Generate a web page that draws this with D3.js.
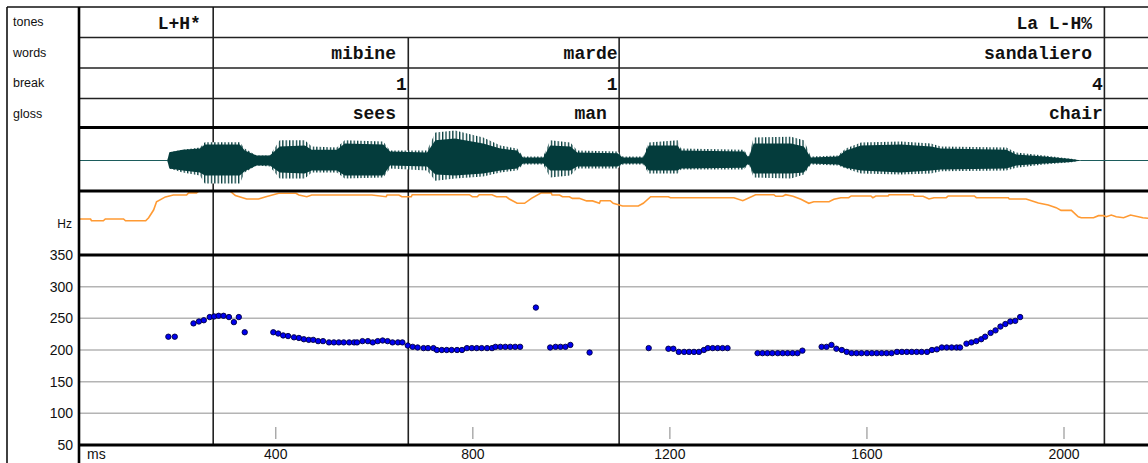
<!DOCTYPE html>
<html><head><meta charset="utf-8">
<script src="https://cdn.jsdelivr.net/npm/d3@7/dist/d3.min.js"></script>
<style>html,body{margin:0;padding:0;background:#fff;} svg{display:block;}</style>
</head><body><svg id="c" width="1148" height="463"></svg>
<script>
// ---------- data ----------
const tierNames = ["tones", "words", "break", "gloss"];
const toneTimes = [273, 2082];
const toneLabels = ["L+H* ", "La L-H% "];
const wordTimes = [273, 669, 1097, 2082];
const wordLabels = ["", "mibine ", "marde", "sandaliero "];
const breakTimes = [273, 669, 1097, 2082];
const breakLabels = ["", "1", "1", "4"];
const glossTimes = [273, 669, 1097, 2082];
const glossLabels = ["", "sees ", "man ", "chair"];
const paneBoundaries = [273, 669, 1097, 2082];

const xTicks = [400, 800, 1200, 1600, 2000];
const yTicks = [350, 300, 250, 200, 150, 100, 50];
const yGrid = [300, 250, 200, 150, 100];

// waveform envelope (ms, peak top, core top, core bottom, peak bottom), normalized amplitude
const waveMs =   [180, 184, 211, 246, 256, 327, 337, 361, 388, 408, 459, 473, 524, 540, 618, 632, 707, 724, 764, 821, 856, 890, 902, 943, 957, 998, 1012, 1094, 1104, 1146, 1157, 1216, 1222, 1350, 1360, 1370, 1446, 1472, 1486, 1541, 1557, 1588, 1669, 1730, 1750, 1883, 1903, 1960, 2015, 2035];
const wavePeakTop = [0, 0.27, 0.35, 0.42, 0.59, 0.59, 0.39, 0.16, 0.16, 0.65, 0.65, 0.45, 0.42, 0.65, 0.61, 0.32, 0.32, 0.90, 0.97, 0.74, 0.48, 0.39, 0.13, 0.13, 0.65, 0.58, 0.32, 0.29, 0.13, 0.13, 0.58, 0.65, 0.39, 0.35, 0.13, 0.74, 0.77, 0.65, 0.13, 0.16, 0.39, 0.58, 0.61, 0.55, 0.45, 0.42, 0.26, 0.16, 0.06, 0];
const waveCoreTop = [0, 0.27, 0.35, 0.39, 0.52, 0.52, 0.32, 0.16, 0.16, 0.45, 0.48, 0.35, 0.35, 0.55, 0.52, 0.29, 0.26, 0.65, 0.71, 0.55, 0.39, 0.32, 0.10, 0.10, 0.48, 0.45, 0.26, 0.23, 0.10, 0.10, 0.48, 0.48, 0.32, 0.29, 0.10, 0.55, 0.55, 0.45, 0.10, 0.13, 0.32, 0.48, 0.52, 0.45, 0.39, 0.35, 0.19, 0.13, 0.05, 0];
const waveCoreBot = [0, -0.26, -0.32, -0.39, -0.48, -0.48, -0.35, -0.16, -0.16, -0.39, -0.42, -0.32, -0.32, -0.48, -0.48, -0.16, -0.19, -0.45, -0.48, -0.42, -0.32, -0.26, -0.10, -0.10, -0.32, -0.32, -0.19, -0.19, -0.10, -0.10, -0.32, -0.32, -0.26, -0.23, -0.10, -0.42, -0.42, -0.39, -0.10, -0.13, -0.23, -0.32, -0.39, -0.32, -0.29, -0.26, -0.16, -0.10, -0.05, 0];
const wavePeakBot = [0, -0.26, -0.39, -0.48, -0.74, -0.74, -0.39, -0.16, -0.19, -0.58, -0.58, -0.39, -0.39, -0.58, -0.55, -0.26, -0.32, -0.65, -0.58, -0.52, -0.39, -0.32, -0.13, -0.13, -0.55, -0.48, -0.26, -0.26, -0.13, -0.13, -0.42, -0.42, -0.29, -0.29, -0.13, -0.55, -0.58, -0.45, -0.13, -0.16, -0.26, -0.42, -0.45, -0.42, -0.35, -0.32, -0.23, -0.13, -0.06, 0];

// intensity contour (ms, dB)
const intMs = [0, 0, 24, 26, 50, 54, 91, 95, 136, 142, 152, 158, 176, 192, 219, 223, 239, 243, 308, 318, 341, 365, 380, 406, 441, 447, 463, 473, 595, 624, 626, 650, 656, 675, 677, 793, 799, 809, 813, 839, 848, 868, 874, 890, 905, 919, 939, 959, 961, 976, 982, 996, 1002, 1016, 1031, 1043, 1057, 1059, 1079, 1085, 1104, 1136, 1146, 1161, 1197, 1201, 1330, 1348, 1374, 1411, 1415, 1429, 1435, 1450, 1466, 1482, 1492, 1523, 1533, 1547, 1563, 1568, 1608, 1612, 1618, 1643, 1645, 1694, 1696, 1714, 1726, 1736, 1761, 1765, 1818, 1822, 1887, 1889, 1923, 1934, 1948, 1968, 1984, 1994, 2015, 2029, 2035, 2060, 2070, 2080, 2086, 2096, 2106, 2121, 2135, 2160, 2174];
const intDb = [41.3, 62.5, 62.5, 61.4, 61.4, 62.5, 62.5, 61.4, 61.4, 63.3, 68.1, 73.3, 76.3, 77.5, 77.5, 78.8, 78.8, 79.8, 79.8, 77.1, 75.0, 75.0, 76.4, 78.6, 78.6, 77.5, 76.4, 77.5, 77.5, 76.4, 77.5, 77.5, 76.4, 76.4, 77.7, 77.7, 76.4, 76.4, 77.7, 77.7, 76.4, 76.4, 75.0, 72.3, 72.3, 75.4, 78.8, 78.8, 77.5, 77.5, 76.4, 76.4, 75.4, 75.4, 73.8, 73.8, 72.3, 73.9, 73.9, 72.3, 70.6, 70.6, 72.3, 76.4, 76.4, 75.8, 75.8, 73.9, 77.7, 77.7, 76.7, 76.7, 77.7, 76.7, 74.8, 72.3, 73.3, 73.3, 74.8, 75.8, 75.8, 76.9, 76.9, 75.8, 76.9, 76.9, 77.7, 77.7, 76.7, 76.7, 75.0, 75.8, 75.8, 76.9, 76.9, 75.8, 75.8, 75.0, 75.0, 73.9, 72.5, 71.3, 69.6, 67.9, 67.9, 63.9, 63.3, 63.3, 64.6, 64.6, 63.9, 65.0, 63.9, 63.3, 65.0, 63.3, 62.9];

// pitch track (ms, Hz)
const pitchMs = [182, 195, 233, 244, 254, 266, 275, 284, 294, 305, 315, 325, 337, 395, 405, 415, 425, 437, 447, 457, 467, 476, 486, 496, 508, 518, 528, 538, 549, 559, 565, 576, 587, 597, 607, 617, 627, 637, 648, 657, 668, 678, 688, 700, 709, 720, 727, 737, 747, 757, 768, 778, 788, 798, 808, 818, 829, 839, 846, 856, 866, 876, 886, 896, 928, 957, 968, 978, 988, 998, 1037, 1157, 1197, 1207, 1218, 1229, 1239, 1249, 1259, 1269, 1277, 1287, 1297, 1307, 1317, 1378, 1388, 1398, 1408, 1419, 1429, 1439, 1449, 1459, 1469, 1508, 1518, 1528, 1538, 1549, 1559, 1569, 1579, 1589, 1600, 1610, 1620, 1630, 1640, 1650, 1661, 1671, 1681, 1691, 1701, 1711, 1722, 1732, 1742, 1752, 1762, 1772, 1782, 1789, 1802, 1812, 1822, 1832, 1840, 1851, 1861, 1871, 1881, 1891, 1901, 1911];
const pitchHz = [221, 221, 242, 245, 247, 252, 253, 254, 254, 252, 244, 252, 228, 228, 226, 223, 222, 220, 219, 217, 216, 216, 214, 214, 212, 212, 212, 212, 212, 212, 212, 214, 214, 212, 214, 215, 214, 212, 212, 212, 207, 205, 204, 203, 203, 203, 200, 200, 200, 200, 200, 200, 203, 203, 203, 203, 203, 203, 205, 205, 205, 205, 205, 205, 267, 204, 205, 205, 205, 208, 196, 203, 202, 202, 197, 197, 197, 197, 197, 200, 203, 203, 203, 203, 203, 195, 195, 195, 195, 195, 195, 195, 195, 195, 199, 205, 205, 208, 202, 200, 197, 195, 195, 195, 195, 195, 195, 195, 195, 195, 197, 197, 197, 197, 197, 197, 197, 200, 201, 204, 204, 204, 204, 204, 210, 212, 214, 217, 221, 227, 231, 237, 241, 245, 246, 252];

// ---------- layout ----------
const svg = d3.select("#c");
const W = 1148, H = 463;
const frameL = 7, labelR = 79, frameT = 7;
const rowY = [7, 37.5, 68, 98.5, 127.5];
const waveB = 191, intB = 255, plotB = 445;

const x = d3.scaleLinear().domain([0, 2000]).range([78.7, 1064]);
const yHz = d3.scaleLinear().domain([50, 350]).range([plotB, intB]);
const yDb = d3.scaleLinear().domain([40, 80]).range([intB, waveB]);
const yAmp = d3.scaleLinear().domain([-1, 1]).range([waveB + 0.5, rowY[4] + 2]);

svg.append("rect").attr("width", W).attr("height", H).attr("fill", "#fff");

const defs = svg.append("defs");
const pat = defs.append("pattern").attr("id", "spk").attr("patternUnits", "userSpaceOnUse")
  .attr("width", 3.4).attr("height", 4);
pat.append("rect").attr("width", 3.4).attr("height", 4).attr("fill", "#ffffff");
pat.append("rect").attr("width", 1.3).attr("height", 4).attr("fill", "#043c3c");

defs.append("clipPath").attr("id", "clipR").append("rect")
  .attr("x", labelR).attr("y", 0).attr("width", W - labelR).attr("height", H);

// grid
svg.append("g").selectAll("line").data(yGrid).join("line")
  .attr("x1", labelR).attr("x2", W).attr("y1", d => yHz(d)).attr("y2", d => yHz(d))
  .attr("stroke", "#b4b4b4").attr("stroke-width", 1.5);

// bottom ticks
svg.append("g").selectAll("line").data(xTicks).join("line")
  .attr("x1", d => x(d)).attr("x2", d => x(d)).attr("y1", 427).attr("y2", 439)
  .attr("stroke", "#a0a0a0").attr("stroke-width", 1.3);

// tier boundaries
const tiers = [
  {times: toneTimes, labels: toneLabels},
  {times: wordTimes, labels: wordLabels},
  {times: breakTimes, labels: breakLabels},
  {times: glossTimes, labels: glossLabels}
];
tiers.forEach((t, i) => {
  svg.append("g").selectAll("line").data(t.times).join("line")
    .attr("x1", d => x(d)).attr("x2", d => x(d))
    .attr("y1", rowY[i]).attr("y2", rowY[i + 1])
    .attr("stroke", "#222").attr("stroke-width", 1.6);
});
svg.append("g").selectAll("line").data(paneBoundaries).join("line")
  .attr("x1", d => x(d)).attr("x2", d => x(d)).attr("y1", rowY[4]).attr("y2", plotB)
  .attr("stroke", "#222").attr("stroke-width", 1.6);

// waveform
const g = svg.append("g").attr("clip-path", "url(#clipR)");
g.append("line").attr("x1", labelR).attr("x2", W).attr("y1", yAmp(0)).attr("y2", yAmp(0))
  .attr("stroke", "#1c5c5c").attr("stroke-width", 1);
const idx = d3.range(waveMs.length);
g.append("path")
  .attr("d", d3.area().x(i => x(waveMs[i])).y0(i => yAmp(wavePeakBot[i])).y1(i => yAmp(wavePeakTop[i]))(idx))
  .attr("fill", "url(#spk)");
g.append("path")
  .attr("d", d3.area().x(i => x(waveMs[i])).y0(i => yAmp(waveCoreBot[i])).y1(i => yAmp(waveCoreTop[i]))(idx))
  .attr("fill", "#043c3c");

// intensity
const iidx = d3.range(intMs.length);
g.append("path")
  .attr("d", d3.line().x(i => x(intMs[i])).y(i => yDb(intDb[i]))(iidx))
  .attr("fill", "none").attr("stroke", "#ff9a33").attr("stroke-width", 1.6);

// pitch dots
g.append("g").selectAll("circle").data(d3.range(pitchMs.length)).join("circle")
  .attr("cx", i => x(pitchMs[i])).attr("cy", i => yHz(pitchHz[i])).attr("r", 2.7)
  .attr("fill", "#0000f0").attr("stroke", "#000040").attr("stroke-width", 0.9);

// horizontal frame lines
[rowY[1], rowY[2], rowY[3]].forEach(y => {
  svg.append("line").attr("x1", labelR).attr("x2", W).attr("y1", y).attr("y2", y)
    .attr("stroke", "#222").attr("stroke-width", 1.6);
});
[rowY[4], waveB, intB, plotB].forEach(y => {
  svg.append("line").attr("x1", labelR).attr("x2", W).attr("y1", y).attr("y2", y)
    .attr("stroke", "#000").attr("stroke-width", 3);
});
svg.append("line").attr("x1", frameL).attr("x2", W).attr("y1", frameT).attr("y2", frameT)
  .attr("stroke", "#111").attr("stroke-width", 1.6);
svg.append("line").attr("x1", frameL).attr("x2", frameL).attr("y1", frameT).attr("y2", H)
  .attr("stroke", "#111").attr("stroke-width", 1.6);
svg.append("line").attr("x1", labelR).attr("x2", labelR).attr("y1", frameT).attr("y2", H)
  .attr("stroke", "#000").attr("stroke-width", 2.6);

// tier names
const sans = "'Liberation Sans', Arial, sans-serif";
svg.append("g").selectAll("text").data(tierNames).join("text")
  .attr("x", 13).attr("y", (d, i) => rowY[i] + 19)
  .attr("font-family", sans).attr("font-size", 12.5).attr("fill", "#111")
  .text(d => d);

// tier labels
const mono = "'Liberation Mono', 'DejaVu Sans Mono', monospace";
tiers.forEach((t, i) => {
  svg.append("g").selectAll("text").data(t.times).join("text")
    .attr("x", d => x(d) - 1.5).attr("y", rowY[i + 1] - 9)
    .attr("text-anchor", "end").attr("font-family", mono).attr("font-weight", "bold")
    .attr("font-size", 18).attr("fill", "#111").style("white-space", "pre")
    .text((d, j) => t.labels[j]);
});

// y labels
const axFont = "'Liberation Sans Narrow', 'Liberation Sans', Arial, sans-serif";
svg.append("g").selectAll("text").data(yTicks).join("text")
  .attr("x", 73).attr("y", d => yHz(d)).attr("dy", "0.36em").attr("text-anchor", "end")
  .attr("font-family", axFont).attr("font-size", 14).attr("fill", "#111").text(d => d);
svg.append("text").attr("x", 72).attr("y", 228).attr("text-anchor", "end")
  .attr("font-family", axFont).attr("font-size", 12).attr("fill", "#111").text("Hz");

// x labels
svg.append("g").selectAll("text").data(xTicks).join("text")
  .attr("x", d => x(d)).attr("y", 459).attr("text-anchor", "middle")
  .attr("font-family", axFont).attr("font-size", 14).attr("fill", "#111").text(d => d);
svg.append("text").attr("x", 87).attr("y", 459)
  .attr("font-family", axFont).attr("font-size", 14).attr("fill", "#111").text("ms");
</script></body></html>
